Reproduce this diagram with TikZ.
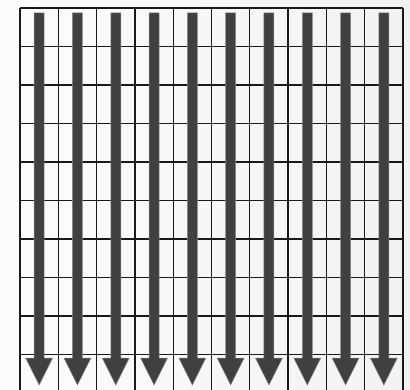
\documentclass[tikz,border=0pt]{standalone}
\usetikzlibrary{calc}
\definecolor{arrowgray}{HTML}{404040}
\definecolor{edgegray}{HTML}{8A8A8A}
\tikzset{
  gridline/.style={draw=black!90, line width=1.3pt},
  downarrow/.style={fill=arrowgray, draw=edgegray, line width=0.5pt, line join=miter},
}
\begin{document}
\begin{tikzpicture}[x=1pt,y=-1pt]
\useasboundingbox (0,0) rectangle (410,390);
\shade[left color=gray!2, right color=gray!10] (0,0) rectangle (410,390);
\clip (0,0) rectangle (410,390);
% grid
\foreach \i in {0,...,10} {
  \draw[gridline] ({20+38.3*\i},8) -- ({20+38.3*\i},400);
}
\foreach \j in {0,...,10} {
  \draw[gridline] (20,{8+38.5*\j}) -- (403,{8+38.5*\j});
}
% arrows
\foreach \i in {0,...,9} {
  \coordinate (c\i) at ({20+38.3*(\i+0.5)},0);
  \path[downarrow]
    ($(c\i)+(-5,13)$) -- ($(c\i)+(5,13)$) -- ($(c\i)+(5,358)$) -- ($(c\i)+(13.5,358)$)
    -- ($(c\i)+(0,385)$) -- ($(c\i)+(-13.5,358)$) -- ($(c\i)+(-5,358)$) -- cycle;
}
\end{tikzpicture}
\end{document}
